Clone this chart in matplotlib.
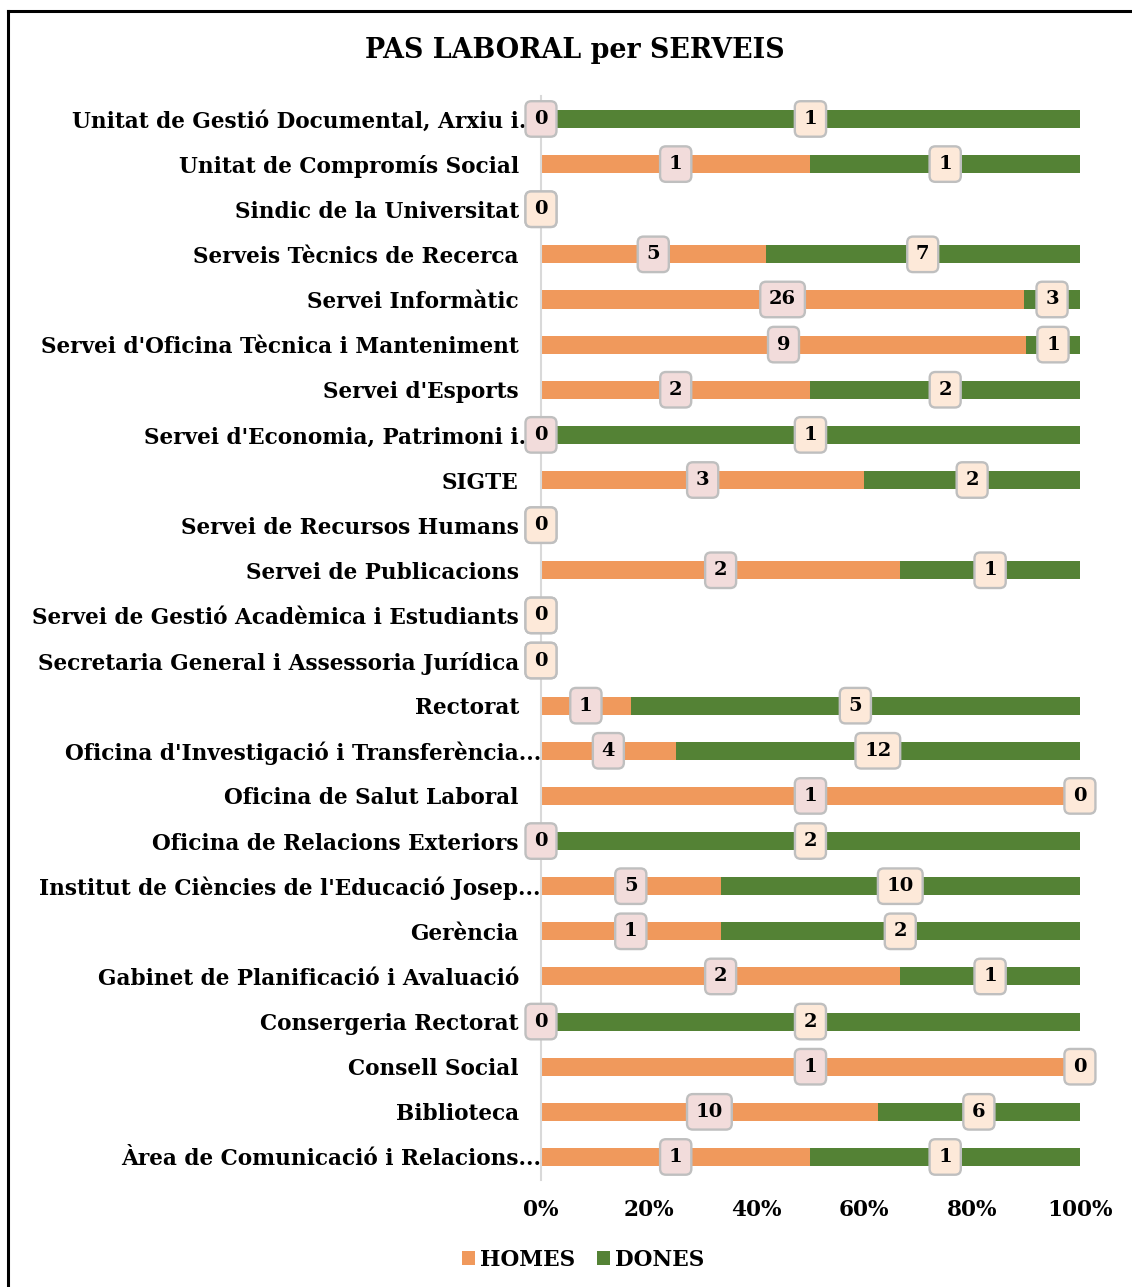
import matplotlib
matplotlib.use("Agg")
import matplotlib.pyplot as plt
import matplotlib.transforms as mtransforms
from matplotlib.lines import Line2D
import numpy as np

# categories from top to bottom, as in the chart
serveis = [
    "Unitat de Gestió Documental, Arxiu i...",
    "Unitat de Compromís Social",
    "Sindic de la Universitat",
    "Serveis Tècnics de Recerca",
    "Servei Informàtic",
    "Servei d'Oficina Tècnica i Manteniment",
    "Servei d'Esports",
    "Servei d'Economia, Patrimoni i...",
    "SIGTE",
    "Servei de Recursos Humans",
    "Servei de Publicacions",
    "Servei de Gestió Acadèmica i Estudiants",
    "Secretaria General i Assessoria Jurídica",
    "Rectorat",
    "Oficina d'Investigació i Transferència...",
    "Oficina de Salut Laboral",
    "Oficina de Relacions Exteriors",
    "Institut de Ciències de l'Educació Josep...",
    "Gerència",
    "Gabinet de Planificació i Avaluació",
    "Consergeria Rectorat",
    "Consell Social",
    "Biblioteca",
    "Àrea de Comunicació i Relacions...",
]
homes = [0, 1, 0, 5, 26, 9, 2, 0, 3, 0, 2, 0, 0, 1, 4, 1, 0, 5, 1, 2, 0, 1, 10, 1]
dones = [1, 1, 0, 7, 3, 1, 2, 1, 2, 0, 1, 0, 0, 5, 12, 0, 2, 10, 2, 1, 2, 0, 6, 1]
xticks = [0, 0.2, 0.4, 0.6, 0.8, 1.0]

ORANGE = "#F0995C"
GREEN = "#548235"
FONT = "DejaVu Serif"

plt.rcParams["font.family"] = FONT
plt.rcParams["font.weight"] = "bold"

fig = plt.figure(figsize=(11.32, 12.87), dpi=100)
ax = fig.add_axes([0.4779, 0.0835, 0.4761, 0.8416])

h = np.array(homes, dtype=float)
d = np.array(dones, dtype=float)
tot = h + d
safe = np.where(tot == 0, 1, tot)
hp = np.where(tot == 0, 0, h / safe)
dp = np.where(tot == 0, 0, d / safe)

y = np.arange(len(serveis))[::-1]
ax.barh(y, hp, height=0.4, color=ORANGE, label="HOMES", zorder=2)
ax.barh(y, dp, left=hp, height=0.4, color=GREEN, label="DONES", zorder=2)

box_kw = dict(boxstyle="round,pad=0.45,rounding_size=0.3", lw=1.7, ec="#BFBFBF")
for yi, hv, dv, a, b in zip(y, homes, dones, hp, dp):
    ax.text(a / 2, yi, str(hv), ha="center", va="center", fontsize=14,
            fontweight="bold", zorder=5, bbox=dict(fc="#F2DCDB", **box_kw))
    ax.text(a + b / 2, yi, str(dv), ha="center", va="center", fontsize=14,
            fontweight="bold", zorder=6, bbox=dict(fc="#FDE9D9", **box_kw))

ax.set_xlim(0, 1)
ax.set_ylim(-0.5, len(serveis) - 0.5)
ax.set_yticks(y)
ax.set_yticklabels(serveis, fontsize=15.6, fontweight="bold")
ax.set_xticks(xticks)
ax.set_xticklabels([f"{int(round(t * 100))}%" for t in xticks], fontsize=15.6, fontweight="bold")
ax.tick_params(axis="both", length=0)
ax.tick_params(axis="y", pad=16)
ax.tick_params(axis="x", pad=14)

# truncated labels sit closer to the axis
shift = mtransforms.ScaledTranslation(16 / 72, 0, fig.dpi_scale_trans)
for lab in ax.get_yticklabels():
    if lab.get_text().endswith("..."):
        lab.set_transform(lab.get_transform() + shift)

for s in ["top", "right", "bottom"]:
    ax.spines[s].set_visible(False)
ax.spines["left"].set_color("#D9D9D9")
ax.spines["left"].set_linewidth(1.5)

fig.text(0.508, 0.961, "PAS LABORAL per SERVEIS", ha="center", va="center",
         fontsize=19.4, fontweight="bold")

handles, labels = ax.get_legend_handles_labels()
fig.legend(handles, labels, loc="center", bbox_to_anchor=(0.515, 0.021), ncol=2,
           frameon=False, fontsize=15.6, handlelength=0.6, handleheight=0.6,
           handletextpad=0.25, columnspacing=1.0)

# outer frame of the chart area (top and left edges)
fig.add_artist(Line2D([0.0075, 1.0], [0.9911, 0.9911], color="black", lw=2.2,
                      transform=fig.transFigure))
fig.add_artist(Line2D([0.0075, 0.0075], [0.0, 0.9911], color="black", lw=2.2,
                      transform=fig.transFigure))

fig.savefig("out.png", dpi=100)
